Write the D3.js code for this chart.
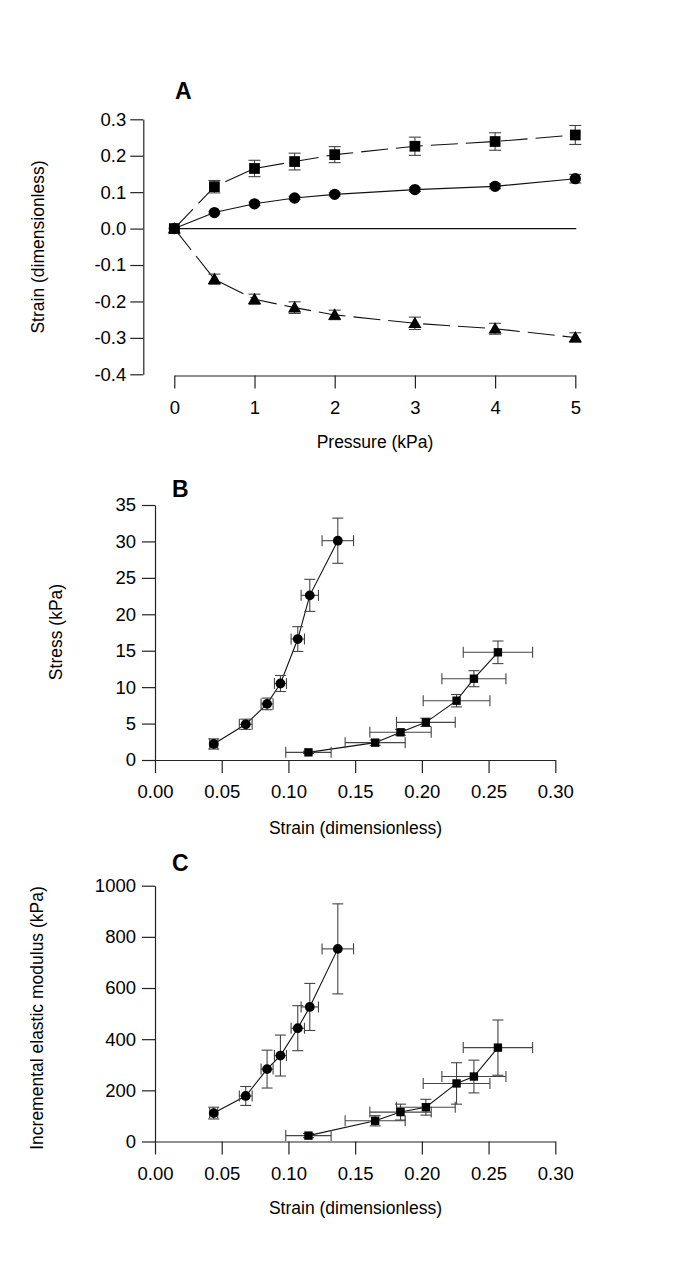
<!DOCTYPE html>
<html>
<head>
<meta charset="utf-8">
<script src="https://cdn.jsdelivr.net/npm/d3@7"></script>
<style>
  html, body { margin: 0; padding: 0; background: #fff; }
  svg { display: block; font-family: "Liberation Sans", Arial, Helvetica, sans-serif; }
</style>
</head>
<body>
<script>
// ---------------- DATA ----------------
// Panel A: strain vs pressure
const pressure = [0, 0.5, 1, 1.5, 2, 3, 4, 5];
const strainCircle = [0, 0.044, 0.068, 0.084, 0.094, 0.107, 0.116, 0.137];
const strainCircleErr = [0, 0.003, 0.0048, 0.0045, 0.0045, 0.005, 0.0065, 0.0118];
const strainSquare = [0, 0.115, 0.165, 0.184, 0.203, 0.226, 0.239, 0.257];
const strainSquareErr = [0, 0.017, 0.0225, 0.023, 0.022, 0.025, 0.024, 0.026];
const strainTriangle = [0, -0.139, -0.194, -0.217, -0.237, -0.260, -0.275, -0.299];
const strainTriangleErr = [0, 0.014, 0.014, 0.016, 0.013, 0.017, 0.015, 0.013];

// Panel B: stress vs strain (points at pressure > 0)
const stressCircle = [2.2, 4.9, 7.7, 10.5, 16.6, 22.6, 30.1];
const stressCircleErr = [0.7, 0.7, 0.8, 1.1, 1.7, 2.2, 3.1];
const stressSquare = [1.05, 2.38, 3.8, 5.17, 8.14, 11.16, 14.78];
const stressSquareErr = [0.15, 0.37, 0.4, 0.57, 0.85, 1.1, 1.55];

// Panel C: incremental elastic modulus vs strain
const modulusCircle = [111, 178, 283, 336, 443, 526, 753];
const modulusCircleErr = [23, 37, 74, 80, 88, 92, 176];
const modulusSquare = [23, 81, 115, 134, 227, 254, 367];
const modulusSquareErr = [8, 20, 31, 31, 81, 64, 108];

// Tick labels
const aXTicks = [0, 1, 2, 3, 4, 5];
const aYTicks = [-0.4, -0.3, -0.2, -0.1, 0.0, 0.1, 0.2, 0.3];
const strainTicks = [0, 0.05, 0.10, 0.15, 0.20, 0.25, 0.30];
const bYTicks = [0, 5, 10, 15, 20, 25, 30, 35];
const cYTicks = [0, 200, 400, 600, 800, 1000];

// ---------------- DRAW ----------------
const W = 685, H = 1284;
const svg = d3.select("body").append("svg").attr("width", W).attr("height", H);

const axisColor = "#222";
const lineColor = "#111";
const errColor = "#444";
const tickFont = 18.5;
const titleFont = 17.5;

function styleAxis(g) {
  g.select(".domain").attr("stroke", axisColor).attr("stroke-width", 1.2);
  g.selectAll(".tick line").attr("stroke", axisColor).attr("stroke-width", 1.2);
  g.selectAll(".tick text").attr("fill", "#000").attr("font-size", tickFont)
    .attr("font-family", "Liberation Sans, Arial, sans-serif");
}

function vTitle(x, y, txt, size) {
  svg.append("text").attr("transform", `translate(${x},${y}) rotate(-90)`)
    .attr("text-anchor", "middle").attr("dy", "0.35em")
    .attr("font-size", size).attr("fill", "#000").text(txt);
}
function hTitle(x, y, txt, size) {
  svg.append("text").attr("x", x).attr("y", y)
    .attr("text-anchor", "middle").attr("dy", "0.35em")
    .attr("font-size", size).attr("fill", "#000").text(txt);
}
function letter(x, y, txt) {
  svg.append("text").attr("x", x).attr("y", y)
    .attr("font-size", 23).attr("font-weight", "bold").attr("fill", "#000").text(txt);
}

function marker(g, type, x, y, size) {
  const sym = type === "circle" ? d3.symbolCircle : type === "square" ? d3.symbolSquare : d3.symbolTriangle;
  g.append("path").attr("d", d3.symbol(sym, size)()).attr("transform", `translate(${x},${y})`)
    .attr("fill", "#000");
}

function vErr(g, x, y0, y1, cap) {
  g.append("line").attr("x1", x).attr("x2", x).attr("y1", y0).attr("y2", y1);
  g.append("line").attr("x1", x - cap).attr("x2", x + cap).attr("y1", y0).attr("y2", y0);
  g.append("line").attr("x1", x - cap).attr("x2", x + cap).attr("y1", y1).attr("y2", y1);
}
function hErr(g, y, x0, x1, cap) {
  g.append("line").attr("y1", y).attr("y2", y).attr("x1", x0).attr("x2", x1);
  g.append("line").attr("y1", y - cap).attr("y2", y + cap).attr("x1", x0).attr("x2", x0);
  g.append("line").attr("y1", y - cap).attr("y2", y + cap).attr("x1", x1).attr("x2", x1);
}

// ===== Panel A =====
{
  const x = d3.scaleLinear().domain([0, 5]).range([174.3, 575.3]);
  const y = d3.scaleLinear().domain([-0.4, 0.3]).range([374.3, 119.3]);

  const gx = svg.append("g").attr("transform", "translate(0,375.5)")
    .call(d3.axisBottom(x).tickValues(aXTicks).tickSize(13).tickPadding(12).tickSizeOuter(0).tickFormat(d3.format("d")));
  styleAxis(gx);
  const gy = svg.append("g").attr("transform", "translate(143.3,0)")
    .call(d3.axisLeft(y).tickValues(aYTicks).tickSize(13).tickPadding(4).tickSizeOuter(0).tickFormat(d => d.toFixed(1)));
  styleAxis(gy);

  // zero line
  svg.append("line").attr("x1", x(0)).attr("x2", x(5) + 1).attr("y1", y(0)).attr("y2", y(0))
    .attr("stroke", lineColor).attr("stroke-width", 1.1);

  const series = [
    { v: strainSquare, e: strainSquareErr, type: "square", dash: "27,8", size: 115 },
    { v: strainCircle, e: strainCircleErr, type: "circle", dash: null, size: 100 },
    { v: strainTriangle, e: strainTriangleErr, type: "triangle", dash: "27,8", size: 75 }
  ];
  const line = d3.line().x(d => x(d[0])).y(d => y(d[1]));
  series.forEach(s => {
    const pts = pressure.map((p, i) => [p, s.v[i]]);
    const path = svg.append("path").attr("d", line(pts)).attr("fill", "none")
      .attr("stroke", lineColor).attr("stroke-width", 1.1);
    if (s.dash) path.attr("stroke-dasharray", s.dash);
  });
  const ge = svg.append("g").attr("stroke", errColor).attr("stroke-width", 1.1);
  series.forEach(s => {
    pressure.forEach((p, i) => {
      if (s.e[i] > 0) vErr(ge, x(p), y(s.v[i] + s.e[i]), y(s.v[i] - s.e[i]), 6);
    });
  });
  const gm = svg.append("g");
  series.forEach(s => {
    pressure.forEach((p, i) => marker(gm, s.type, x(p), y(s.v[i]) + (s.type === "triangle" ? 1 : 0), s.size));
  });

  letter(175, 99, "A");
  vTitle(38, 247, "Strain (dimensionless)", titleFont);
  hTitle(375, 442, "Pressure (kPa)", titleFont);
}

// ===== Panels B & C =====
function strainPanel(y0px, y1px, yDomain, yTicks, yFmt, circleVals, circleErr, squareVals, squareErr, lab, labY, title, titleX, titleY, xTitleY) {
  const x = d3.scaleLinear().domain([0, 0.3]).range([155, 555.3]);
  const y = d3.scaleLinear().domain(yDomain).range([y0px, y1px]);

  const gx = svg.append("g").attr("transform", `translate(0,${y0px})`)
    .call(d3.axisBottom(x).tickValues(strainTicks).tickSize(13).tickPadding(12).tickSizeOuter(0).tickFormat(d3.format(".2f")));
  styleAxis(gx);
  const gy = svg.append("g").attr("transform", "translate(155,0)")
    .call(d3.axisLeft(y).tickValues(yTicks).tickSize(13).tickPadding(6).tickSizeOuter(0).tickFormat(yFmt));
  styleAxis(gy);

  const cx = strainCircle.slice(1), cxe = strainCircleErr.slice(1);
  const sx = strainSquare.slice(1), sxe = strainSquareErr.slice(1);

  const line = d3.line().x(d => x(d[0])).y(d => y(d[1]));
  svg.append("path").attr("d", line(cx.map((v, i) => [v, circleVals[i]])))
    .attr("fill", "none").attr("stroke", lineColor).attr("stroke-width", 1.1);
  svg.append("path").attr("d", line(sx.map((v, i) => [v, squareVals[i]])))
    .attr("fill", "none").attr("stroke", lineColor).attr("stroke-width", 1.1);

  const ge = svg.append("g").attr("stroke", errColor).attr("stroke-width", 1.1);
  cx.forEach((v, i) => {
    vErr(ge, x(v), y(circleVals[i] + circleErr[i]), y(circleVals[i] - circleErr[i]), 5.5);
    hErr(ge, y(circleVals[i]), x(v - cxe[i]), x(v + cxe[i]), 5.5);
  });
  sx.forEach((v, i) => {
    vErr(ge, x(v), y(squareVals[i] + squareErr[i]), y(squareVals[i] - squareErr[i]), 5.5);
    hErr(ge, y(squareVals[i]), x(v - sxe[i]), x(v + sxe[i]), 5.5);
  });
  const gm = svg.append("g");
  cx.forEach((v, i) => marker(gm, "circle", x(v), y(circleVals[i]), 75));
  sx.forEach((v, i) => marker(gm, "square", x(v), y(squareVals[i]), 70));

  letter(172, labY, lab);
  vTitle(titleX, titleY, title, titleFont);
  hTitle(355.5, xTitleY, "Strain (dimensionless)", titleFont);
}

strainPanel(760, 505, [0, 35], bYTicks, d3.format("d"),
  stressCircle, stressCircleErr, stressSquare, stressSquareErr,
  "B", 497, "Stress (kPa)", 56, 632, 828);

strainPanel(1141.5, 885.7, [0, 1000], cYTicks, d3.format("d"),
  modulusCircle, modulusCircleErr, modulusSquare, modulusSquareErr,
  "C", 871, "Incremental elastic modulus (kPa)", 37, 1018, 1208);
</script>
</body>
</html>
